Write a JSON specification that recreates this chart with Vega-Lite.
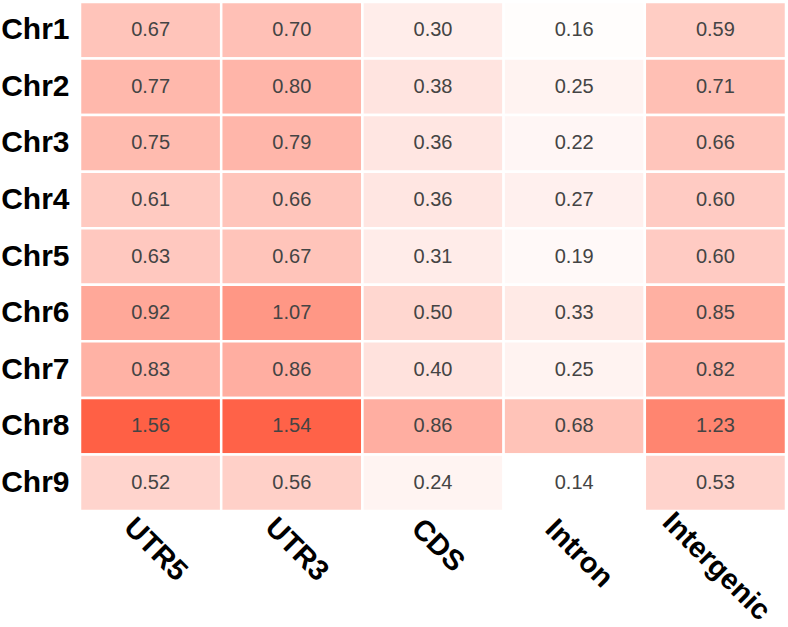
{
  "$schema": "https://vega.github.io/schema/vega-lite/v6.json",
  "autosize": "none",
  "padding": {"left": 80, "top": 2, "right": 2, "bottom": 116},
  "width": 706,
  "height": 509,
  "background": "white",
  "config": {"view": {"stroke": null}},
  "data": {"values": [
    {"chr": "Chr1", "region": "UTR5", "v": 0.67}, {"chr": "Chr1", "region": "UTR3", "v": 0.70}, {"chr": "Chr1", "region": "CDS", "v": 0.30}, {"chr": "Chr1", "region": "Intron", "v": 0.16}, {"chr": "Chr1", "region": "Intergenic", "v": 0.59},
    {"chr": "Chr2", "region": "UTR5", "v": 0.77}, {"chr": "Chr2", "region": "UTR3", "v": 0.80}, {"chr": "Chr2", "region": "CDS", "v": 0.38}, {"chr": "Chr2", "region": "Intron", "v": 0.25}, {"chr": "Chr2", "region": "Intergenic", "v": 0.71},
    {"chr": "Chr3", "region": "UTR5", "v": 0.75}, {"chr": "Chr3", "region": "UTR3", "v": 0.79}, {"chr": "Chr3", "region": "CDS", "v": 0.36}, {"chr": "Chr3", "region": "Intron", "v": 0.22}, {"chr": "Chr3", "region": "Intergenic", "v": 0.66},
    {"chr": "Chr4", "region": "UTR5", "v": 0.61}, {"chr": "Chr4", "region": "UTR3", "v": 0.66}, {"chr": "Chr4", "region": "CDS", "v": 0.36}, {"chr": "Chr4", "region": "Intron", "v": 0.27}, {"chr": "Chr4", "region": "Intergenic", "v": 0.60},
    {"chr": "Chr5", "region": "UTR5", "v": 0.63}, {"chr": "Chr5", "region": "UTR3", "v": 0.67}, {"chr": "Chr5", "region": "CDS", "v": 0.31}, {"chr": "Chr5", "region": "Intron", "v": 0.19}, {"chr": "Chr5", "region": "Intergenic", "v": 0.60},
    {"chr": "Chr6", "region": "UTR5", "v": 0.92}, {"chr": "Chr6", "region": "UTR3", "v": 1.07}, {"chr": "Chr6", "region": "CDS", "v": 0.50}, {"chr": "Chr6", "region": "Intron", "v": 0.33}, {"chr": "Chr6", "region": "Intergenic", "v": 0.85},
    {"chr": "Chr7", "region": "UTR5", "v": 0.83}, {"chr": "Chr7", "region": "UTR3", "v": 0.86}, {"chr": "Chr7", "region": "CDS", "v": 0.40}, {"chr": "Chr7", "region": "Intron", "v": 0.25}, {"chr": "Chr7", "region": "Intergenic", "v": 0.82},
    {"chr": "Chr8", "region": "UTR5", "v": 1.56}, {"chr": "Chr8", "region": "UTR3", "v": 1.54}, {"chr": "Chr8", "region": "CDS", "v": 0.86}, {"chr": "Chr8", "region": "Intron", "v": 0.68}, {"chr": "Chr8", "region": "Intergenic", "v": 1.23},
    {"chr": "Chr9", "region": "UTR5", "v": 0.52}, {"chr": "Chr9", "region": "UTR3", "v": 0.56}, {"chr": "Chr9", "region": "CDS", "v": 0.24}, {"chr": "Chr9", "region": "Intron", "v": 0.14}, {"chr": "Chr9", "region": "Intergenic", "v": 0.53}
  ]},
  "encoding": {
    "x": {"field": "region", "type": "nominal", "sort": ["UTR5", "UTR3", "CDS", "Intron", "Intergenic"],
      "axis": {"title": null, "domain": false, "ticks": false, "labelAngle": 45, "labelAlign": "center", "labelBaseline": "middle",
        "labelFont": "Liberation Sans", "labelFontWeight": "bold", "labelFontSize": 29, "labelColor": "black",
        "labelOffset": {"expr": "datum.value == 'Intergenic' ? 1 : 5"},
        "labelPadding": {"expr": "datum.value == 'Intergenic' ? 55 : datum.value == 'Intron' ? 42 : datum.value == 'CDS' ? 34 : 38"}}},
    "y": {"field": "chr", "type": "nominal", "sort": ["Chr1", "Chr2", "Chr3", "Chr4", "Chr5", "Chr6", "Chr7", "Chr8", "Chr9"],
      "axis": {"title": null, "domain": false, "ticks": false, "labelFont": "Liberation Sans", "labelFontWeight": "bold", "labelFontSize": 30, "labelColor": "black", "labelPadding": 11}}
  },
  "layer": [
    {"mark": {"type": "rect", "stroke": "white", "strokeWidth": 2.5},
     "encoding": {"color": {"field": "v", "type": "quantitative", "scale": {"domain": [0.14, 1.56], "range": ["#ffffff", "#ff6045"], "interpolate": "rgb"}, "legend": null}}},
    {"mark": {"type": "text", "font": "Liberation Sans", "fontSize": 20, "color": "#444444"},
     "encoding": {"text": {"field": "v", "type": "quantitative", "format": ".2f"}}}
  ]
}
